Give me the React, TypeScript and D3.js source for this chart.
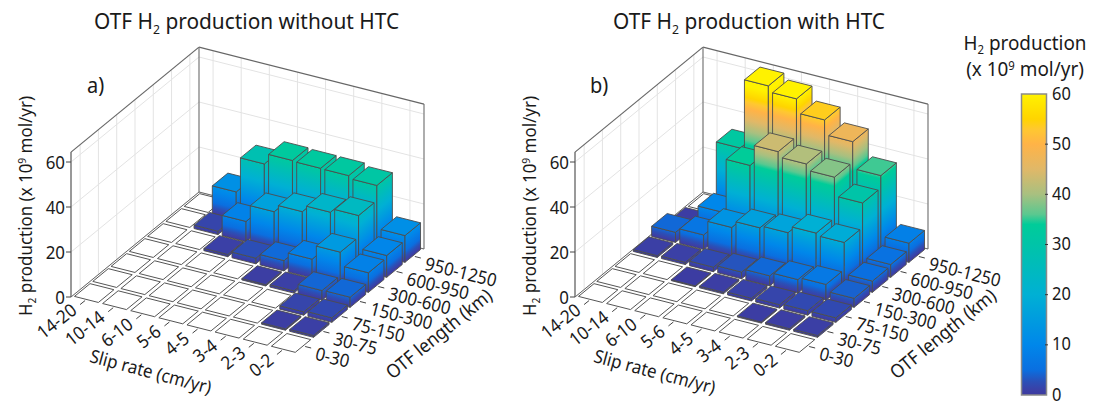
import React from "react";
import * as d3 from "d3";

const slipLabels = ["14-20", "10-14", "6-10", "5-6", "4-5", "3-4", "2-3", "0-2"];
const lengthLabels = ["0-30", "30-75", "75-150", "150-300", "300-600", "600-950", "950-1250"];
const zTicks = [0, 20, 40, 60];
const barTicks = [0, 10, 20, 30, 40, 50, 60];

// rows: OTF length (0-30 first), columns: slip rate (14-20 first)
const withoutHTC = [
  [0, 0, 0, 0, 0, 0, 0, 0],
  [0, 0, 0, 0, 0, 0, 0.6, 0.8],
  [0, 0, 0, 0, 0, 0, 1.5, 2],
  [0, 0, 0, 0, 0.6, 1, 4.3, 4.5],
  [0, 0, 1, 2.5, 4.6, 8.4, 14.7, 8.7],
  [0, 1.5, 9, 16.5, 19.7, 22.6, 24.3, 9.7],
  [0, 12.3, 27.9, 32.6, 32.3, 32.2, 31, 11.9],
];
const withHTC = [
  [0, 0, 0, 0, 0, 0, 0, 0],
  [0, 0, 0, 0, 0, 0.5, 0.7, 0.8],
  [0, 0, 0.4, 0.7, 1.2, 1.5, 2, 2],
  [0.8, 1, 2, 3, 4.5, 6, 7, 4],
  [4.5, 6.5, 13, 16, 17, 20, 19, 5],
  [0.5, 10, 33.9, 43.2, 40.9, 38.2, 29.9, 5.7],
  [0, 31.8, 62.6, 60, 53.8, 47.3, 35.4, 8.5],
];

const cmapValues = [0, 1, 2.7, 5, 10, 20, 30, 34, 36, 40, 45, 50, 53, 55, 60];
const cmapColors = ["#3d3a9f", "#3b40a6", "#2a50b8", "#0a6fe0", "#0087ea", "#00b0d4", "#00c4a8", "#00cc99", "#5ac890", "#a8c080", "#e0b868", "#ffb347", "#ffc830", "#ffd400", "#fff200"];

const color = d3.scaleLinear<string>().domain(cmapValues).range(cmapColors).clamp(true);

const FONT = "'Noto Sans', 'Open Sans', sans-serif";
const TXT = "#1a1a1a";
const FS = 18.2;
const SX = 0.93;

// oblique (orthographic) projection of the 3D axes onto the page
const slipDx = d3.scaleLinear().domain([0, 8]).range([0, 225]);
const slipDy = d3.scaleLinear().domain([0, 8]).range([0, 57]);
const lenDx = d3.scaleLinear().domain([0, 7]).range([0, 128]);
const lenDy = d3.scaleLinear().domain([0, 7]).range([0, -105]);
const zDy = d3.scaleLinear().domain([0, 60]).range([0, -135]);
const Z_TOP = 64.4;
const PAD = 0.075;

type Pt = [number, number];
const T = (x: number, y: number, r = 0, sx = SX) => `translate(${x},${y}) rotate(${r}) scale(${sx},1)`;

function Panel({ ox, oy, data, idp, title, titleX, letter, letterX }: any) {
  const P = (i: number, j: number, z: number): Pt => [
    ox + slipDx(i) + lenDx(j),
    oy + slipDy(i) + lenDy(j) + zDy(z),
  ];
  const path = (pts: Pt[]) => d3.line()(pts)! + "Z";
  const line = (a: Pt, b: Pt, stroke: string, sw = 1, key?: any) => (
    <line key={key} x1={a[0]} y1={a[1]} x2={b[0]} y2={b[1]} stroke={stroke} strokeWidth={sw} />
  );
  const GRID = "#e3e3e3";
  const BOX = "#666";
  const defs: any[] = [];
  const faces: any[] = [];

  const grad = (id: string, p: Pt, q: Pt) => {
    const dx = q[0] - p[0], dy = q[1] - p[1];
    const len = Math.hypot(dx, dy);
    const n: Pt = [-dy / len, dx / len];
    const t = n[1] * zDy(60);
    defs.push(
      <linearGradient key={id} id={id} href="#cmap" gradientUnits="userSpaceOnUse"
        x1={p[0]} y1={p[1]} x2={p[0] + n[0] * t} y2={p[1] + n[1] * t} />
    );
  };

  for (let j = 6; j >= 0; j--) {
    for (let i = 0; i < 8; i++) {
      const z = data[j][i];
      const i0 = i + PAD, i1 = i + 1 - PAD, j0 = j + PAD, j1 = j + 1 - PAD;
      const stroke = "#4d4d4d";
      if (z === 0) {
        faces.push(<path key={`${i}-${j}`} d={path([P(i0, j0, 0), P(i1, j0, 0), P(i1, j1, 0), P(i0, j1, 0)])} fill="#fff" stroke="#555" strokeWidth={1} />);
        continue;
      }
      const idL = `${idp}L${i}${j}`, idR = `${idp}R${i}${j}`;
      grad(idL, P(i0, j0, 0), P(i1, j0, 0));
      grad(idR, P(i1, j0, 0), P(i1, j1, 0));
      faces.push(
        <g key={`${i}-${j}`} stroke={stroke} strokeWidth={0.9} strokeLinejoin="round">
          <path d={path([P(i0, j0, 0), P(i1, j0, 0), P(i1, j0, z), P(i0, j0, z)])} fill={`url(#${idL})`} />
          <path d={path([P(i1, j0, 0), P(i1, j1, 0), P(i1, j1, z), P(i1, j0, z)])} fill={`url(#${idR})`} />
          <path d={path([P(i0, j0, z), P(i1, j0, z), P(i1, j1, z), P(i0, j1, z)])} fill={color(z)} />
        </g>
      );
    }
  }

  return (
    <g fontFamily={FONT} fill={TXT}>
      <defs>{defs}</defs>
      <text transform={T(titleX, 29, 0, 0.94)} fontSize={22.2}>OTF H<tspan fontSize={13} dy={5}>2</tspan><tspan dy={-5}> production {title}</tspan></text>
      <text transform={T(letterX, 93)} fontSize={21.5}>{letter}</text>

      {/* walls */}
      {zTicks.map((t) => <g key={t}>{line(P(0, 0, t), P(0, 7, t), GRID)}{line(P(0, 7, t), P(8, 7, t), GRID)}</g>)}
      {lengthLabels.map((_, j) => line(P(0, j + 0.5, 0), P(0, j + 0.5, Z_TOP), GRID, 1, "l" + j))}
      {slipLabels.map((_, i) => line(P(i + 0.5, 7, 0), P(i + 0.5, 7, Z_TOP), GRID, 1, "s" + i))}

      {line(P(0, 0, Z_TOP), P(0, 7, Z_TOP), BOX, 1.2)}
      {line(P(0, 7, Z_TOP), P(8, 7, Z_TOP), BOX, 1.2)}
      {line(P(0, 7, 0), P(0, 7, Z_TOP), "#777", 1.2)}
      {line(P(0, 0, 0), P(0, 0, Z_TOP), "#777", 1.5)}
      {line(P(8, 7, 0), P(8, 7, Z_TOP), "#777", 1.2)}
      {line(P(0, 0, 0), P(0, 7, 0), BOX, 1)}
      {line(P(0, 7, 0), P(8, 7, 0), BOX, 1)}

      {faces}

      {/* z axis */}
      {zTicks.map((t) => {
        const p = P(0, 0, t);
        return (
          <g key={t}>
            {line([p[0] - 5, p[1]], p, "#444", 1)}
            <text transform={T(p[0] - 6, p[1] + 6.5)} fontSize={FS} textAnchor="end">{t}</text>
          </g>
        );
      })}
      <text transform={T(ox - 39, oy - 91, -90)} fontSize={FS} textAnchor="middle">
        H<tspan fontSize={11} dy={4}>2</tspan><tspan dy={-4}> production (x 10</tspan><tspan fontSize={11} dy={-6}>9</tspan><tspan dy={6}> mol/yr)</tspan>
      </text>

      {/* slip axis */}
      {slipLabels.map((s, i) => {
        const p = P(i + 0.5, 0, 0);
        return (
          <g key={s}>
            {line(p, [p[0] - 5, p[1] + 4], "#444", 1)}
            <text transform={T(p[0] - 7, p[1] + 12, -38)} fontSize={FS} textAnchor="end">{s}</text>
          </g>
        );
      })}
      <text transform={T(ox + 78, oy + 81, 15)} fontSize={FS} textAnchor="middle">Slip rate (cm/yr)</text>

      {/* length axis */}
      {lengthLabels.map((s, j) => {
        const p = P(8, j + 0.5, 0);
        return (
          <g key={s}>
            {line(p, [p[0] + 6, p[1] + 1.5], "#444", 1)}
            <text transform={T(p[0] + 9, p[1] + 13, 14)} fontSize={FS}>{s}</text>
          </g>
        );
      })}
      <text transform={T(ox + 372, oy + 42, -39)} fontSize={FS + 0.6} textAnchor="middle">OTF length (km)</text>
    </g>
  );
}

function Colorbar() {
  const y = d3.scaleLinear().domain([0, 60]).range([395, 94]);
  return (
    <g fontFamily={FONT} fill={TXT}>
      <text transform={T(1025, 50, 0, 0.95)} fontSize={19.9} textAnchor="middle">H<tspan fontSize={12} dy={4}>2</tspan><tspan dy={-4}> production</tspan></text>
      <text transform={T(1025, 76, 0, 0.95)} fontSize={19.9} textAnchor="middle">(x 10<tspan fontSize={12} dy={-6}>9</tspan><tspan dy={6}> mol/yr)</tspan></text>
      <rect x={1021.5} y={y(60)} width={25} height={y(0) - y(60)} fill="url(#cbar)" stroke="#8a8a8a" strokeWidth={1.5} />
      {barTicks.map((t) => (
        <g key={t}>
          {t > 0 && t < 60 ? <line x1={1045} x2={1048} y1={y(t)} y2={y(t)} stroke="#333" /> : null}
          <text transform={T(1052, y(t) + 5.5)} fontSize={FS - 0.5}>{t}</text>
        </g>
      ))}
    </g>
  );
}

export default function App() {
  return (
    <svg width={1103} height={402} style={{ position: "absolute", left: 0, top: 0, background: "#fff" }}>
      <defs>
        <linearGradient id="cmap" x1="0" y1="0" x2="0" y2="1">
          {cmapValues.map((v, k) => <stop key={v} offset={v / 60} stopColor={cmapColors[k]} />)}
        </linearGradient>
        <linearGradient id="cbar" x1="0" y1="1" x2="0" y2="0">
          {cmapValues.map((v, k) => <stop key={v} offset={v / 60} stopColor={cmapColors[k]} />)}
        </linearGradient>
      </defs>
      <Panel ox={71} oy={297} data={withoutHTC} idp="a" title="without HTC" titleX={94} letter="a)" letterX={87} />
      <Panel ox={575} oy={297} data={withHTC} idp="b" title="with HTC" titleX={613} letter="b)" letterX={590} />
      <Colorbar />
    </svg>
  );
}
